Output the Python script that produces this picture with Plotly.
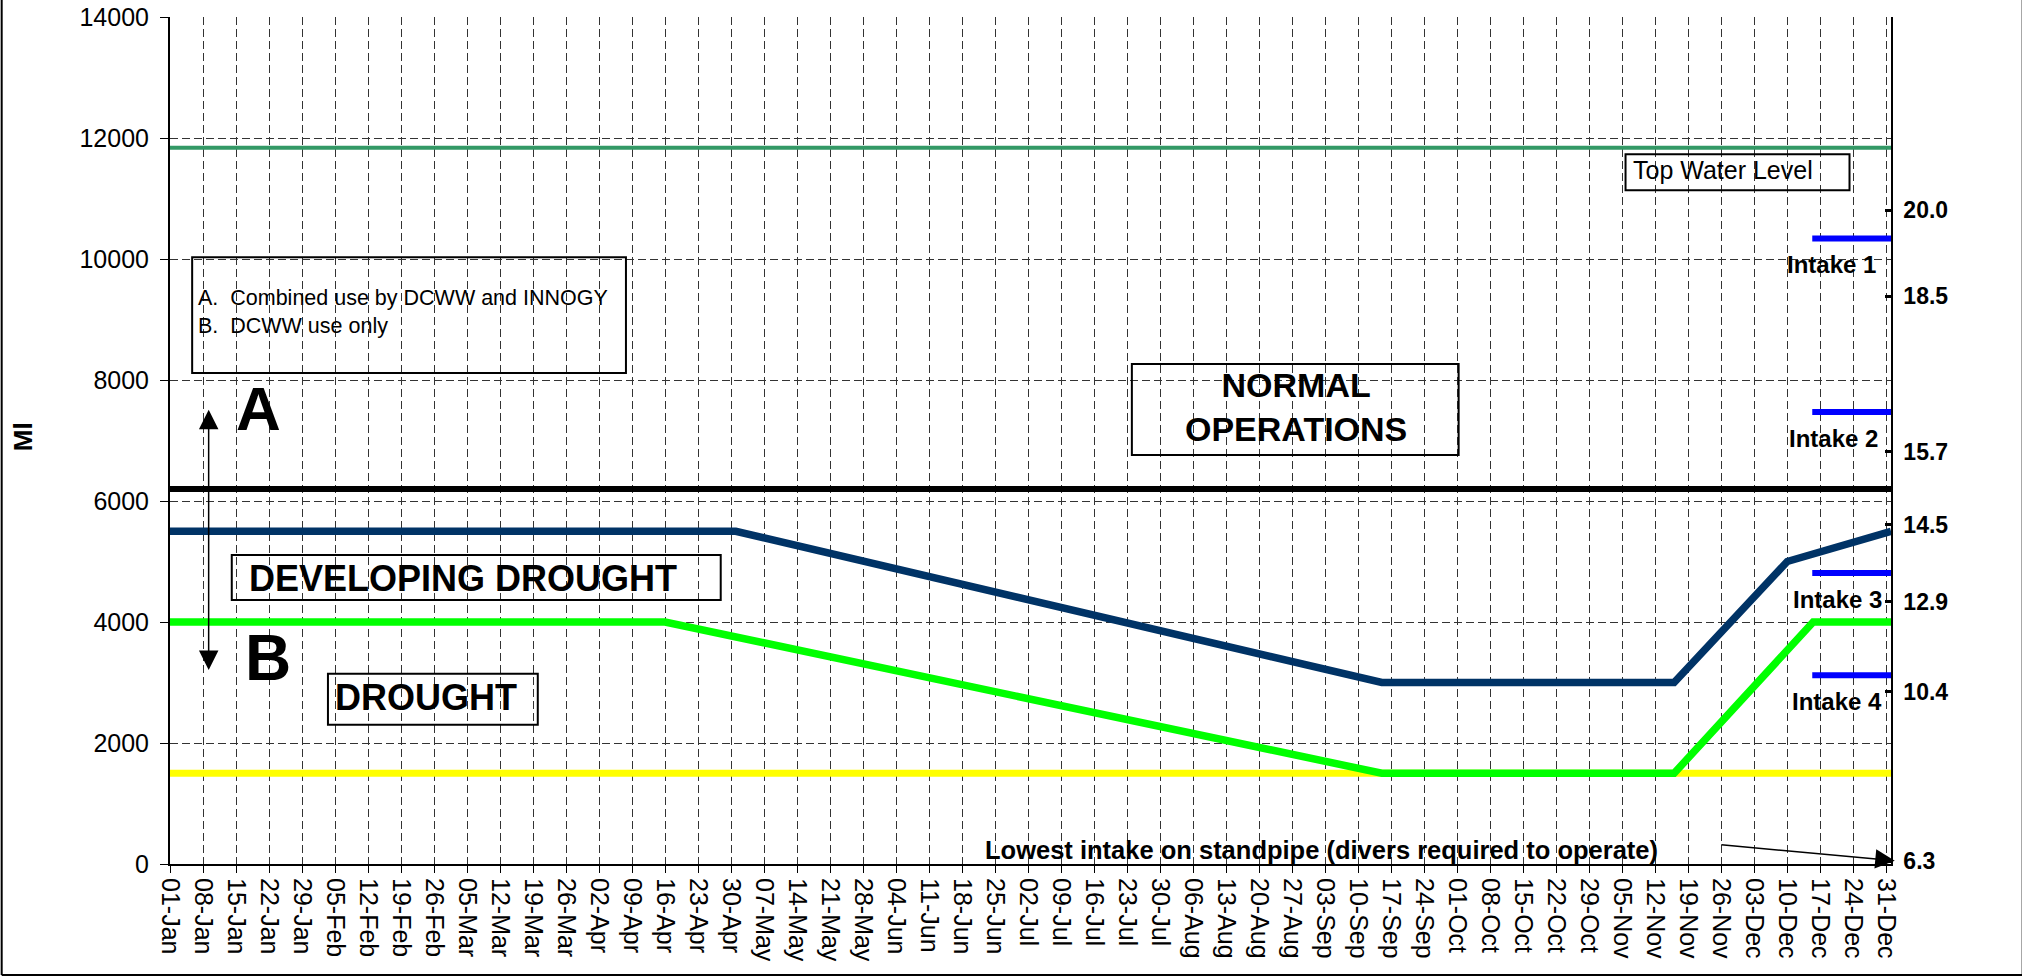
import plotly.graph_objects as go
import pandas as pd

# ---------------- data ----------------
YEAR_START = pd.Timestamp("2001-01-01")

control_days = [0, 120, 257, 319, 343, 365]          # dark blue control curve
control_ml = [5500, 5500, 3000, 3000, 5000, 5500]

drought_days = [0, 105, 257, 319, 348.5, 365]        # green drought curve
drought_ml = [4000, 4000, 1500, 1500, 4000, 4000]

top_water_level_ml = 11840
normal_ops_ml = 6200
emergency_ml = 1500

intake_names = ["Intake 1", "Intake 2", "Intake 3", "Intake 4"]
intake_ml = [10340, 7470, 4810, 3120]
intake_span_days = [348.3, 365]
intake_label_right_days = [362.2, 362.6, 363.6, 363.6]

level_tick_ml = [10806, 9386, 6815, 5604, 4337, 2851, 43]
level_tick_labels = ["20.0", "18.5", "15.7", "14.5", "12.9", "10.4", "6.3"]

y_ticks = [0, 2000, 4000, 6000, 8000, 10000, 12000, 14000]

FONT = "Arial, Liberation Sans, sans-serif"


def d(n):
    return (YEAR_START + pd.Timedelta(days=n)).strftime("%Y-%m-%d %H:%M:%S")


full_year = [d(0), d(365)]

fig = go.Figure()

# reference lines
fig.add_trace(go.Scatter(x=full_year, y=[top_water_level_ml] * 2, mode="lines",
                         line=dict(color="#339966", width=4), hoverinfo="skip"))
fig.add_trace(go.Scatter(x=full_year, y=[normal_ops_ml] * 2, mode="lines",
                         line=dict(color="#000000", width=6), hoverinfo="skip"))
fig.add_trace(go.Scatter(x=full_year, y=[emergency_ml] * 2, mode="lines",
                         line=dict(color="#FFFF00", width=7), hoverinfo="skip"))
fig.add_trace(go.Scatter(x=[d(v) for v in control_days], y=control_ml, mode="lines",
                         line=dict(color="#003366", width=7.5), hoverinfo="skip"))
fig.add_trace(go.Scatter(x=[d(v) for v in drought_days], y=drought_ml, mode="lines",
                         line=dict(color="#00FF00", width=7.5), hoverinfo="skip"))
for ml in intake_ml:
    fig.add_trace(go.Scatter(x=[d(v) for v in intake_span_days], y=[ml, ml], mode="lines",
                             line=dict(color="#0000FF", width=6), hoverinfo="skip"))
# anchor trace for the right-hand level axis
fig.add_trace(go.Scatter(x=[d(0)], y=[0], yaxis="y2", mode="markers",
                         marker=dict(opacity=0), hoverinfo="skip"))

# ---------------- boxes ----------------
boxes = [
    (4.7, 96.7, 8114, 10030),     # legend
    (13.1, 116.8, 4365, 5108),    # developing drought
    (33.5, 78.0, 2300, 3143),     # drought
    (204.0, 273.3, 6760, 8263),   # normal operations
    (308.7, 356.2, 11136, 11731), # top water level
]
for x0, x1, y0, y1 in boxes:
    fig.add_shape(type="rect", xref="x", yref="y", x0=d(x0), x1=d(x1), y0=y0, y1=y1,
                  line=dict(color="black", width=2), fillcolor="rgba(0,0,0,0)", layer="above")

ann = []


def text(x, y, s, size, bold=False, xanchor="center", yanchor="middle", align="center", yshift=0):
    ann.append(dict(x=d(x), y=y, xref="x", yref="y", text=s, showarrow=False,
                    xanchor=xanchor, yanchor=yanchor, align=align, yshift=yshift,
                    font=dict(family=FONT, size=size, color="black",
                              weight="bold" if bold else "normal")))


text(5.5, 9121, "A.  Combined use by DCWW and INNOGY<br>B.  DCWW use only", 21.5,
     xanchor="left", align="left")
text(18.7, 7534, "A", 62, bold=True)
text(20.8, 3407, "B", 64, bold=True)
text(62.1, 4717, "DEVELOPING DROUGHT", 36, bold=True)
text(54.3, 2755, "DROUGHT", 36, bold=True)
text(238.8, 7552, "NORMAL<br>OPERATIONS", 34, bold=True)
text(309.8, 11467, "Top Water Level", 25, xanchor="left", align="left")
for name, ml, xr in zip(intake_names, intake_ml, intake_label_right_days):
    text(xr, ml, name, 24, bold=True, xanchor="right", yshift=-26)
text(172.5, 236, "Lowest intake on standpipe (divers required to operate)", 25.5, bold=True,
     xanchor="left")

# double-headed arrow A/B
ann.append(dict(x=d(8.2), y=3207, ax=d(8.2), ay=7534, xref="x", yref="y", axref="x", ayref="y",
                text="", showarrow=True, arrowside="end+start", arrowhead=2, startarrowhead=2,
                arrowsize=2.6, startarrowsize=2.6, arrowwidth=1.5, arrowcolor="black"))
# arrow to lowest intake
ann.append(dict(x=d(365.8), y=55, ax=d(328.7), ay=319, xref="x", yref="y", axref="x", ayref="y",
                text="", showarrow=True, arrowhead=2, arrowsize=2.6, arrowwidth=1.5,
                arrowcolor="black"))
# y-axis title
ann.append(dict(x=-0.0854, y=0.504, xref="paper", yref="paper", text="Ml", textangle=-90,
                xanchor="center", yanchor="middle",
                showarrow=False, font=dict(family=FONT, size=26, color="black", weight="bold")))

fig.update_layout(annotations=ann)

# outer frame
for x0, x1, y0, y1 in [(-0.0978, -0.0978, -0.131, 1.02), (1.0765, 1.0765, -0.131, 1.02),
                       (-0.0978, 1.0765, -0.131, -0.131)]:
    fig.add_shape(type="line", xref="paper", yref="paper", x0=x0, x1=x1, y0=y0, y1=y1,
                  line=dict(color="black", width=2))

fig.update_layout(
    width=2022, height=977,
    margin=dict(l=170, r=131, t=17, b=113, autoexpand=False),
    paper_bgcolor="white", plot_bgcolor="white",
    showlegend=False,
    font=dict(family=FONT, color="black"),
    xaxis=dict(
        type="date", range=full_year, tick0=d(0), dtick=7 * 86400000, tickformat="%d-%b",
        tickangle=90, tickfont=dict(size=25, family=FONT, color="black"),
        showgrid=True, gridcolor="#333333", griddash="8px,4px", gridwidth=1,
        showline=True, linecolor="black", linewidth=2, automargin=False,
        ticks="outside", ticklen=7, tickcolor="black", zeroline=False,
    ),
    yaxis=dict(
        range=[0, 14000], tickvals=y_ticks, ticktext=[str(v) for v in y_ticks],
        tickfont=dict(size=25, family=FONT, color="black"), ticklabelstandoff=6,
        showgrid=True, gridcolor="#333333", griddash="8px,4px", gridwidth=1,
        showline=True, linecolor="black", linewidth=2, automargin=False,
        ticks="outside", ticklen=8, tickcolor="black", zeroline=False,
    ),
    yaxis2=dict(
        overlaying="y", side="right", range=[0, 14000],
        tickvals=level_tick_ml, ticktext=level_tick_labels,
        tickfont=dict(size=23, family=FONT, color="black", weight="bold"), ticklabelstandoff=6,
        showgrid=False, zeroline=False, showline=True, linecolor="black", linewidth=1.5,
        ticks="inside", ticklen=6, tickwidth=3, tickcolor="black", automargin=False,
    ),
)

fig.write_html("out.html", config={"displayModeBar": False},
               post_script="document.body.style.margin='0';")
